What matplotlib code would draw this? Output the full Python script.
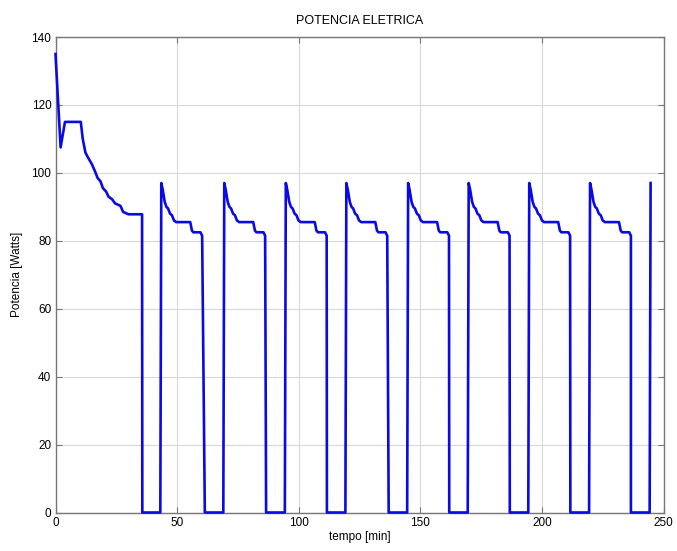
import numpy as np
import matplotlib.pyplot as plt

plt.rcParams['font.family'] = ['Liberation Sans', 'DejaVu Sans']

# initial pull-down: start-up transient and first long "on" period
first_t = [0, 2.1, 3.9, 10.4, 11.2, 12.3, 13.0, 14.2, 15.0, 16.5, 17.3, 18.5,
           19.5, 20.8, 21.8, 23.3, 24.5, 26.7, 27.8, 30.0, 35.6]
first_p = [135, 107.5, 115, 115, 110, 106, 105, 103.5, 102.5, 100, 98.5, 97.5,
           95.5, 94.5, 93, 92.2, 91, 90.3, 88.5, 87.8, 87.8]

# compressor cycles: switch-on / switch-off instants [min]
on_times = [43.1, 69.0, 94.3, 119.2, 144.6, 169.5, 194.4, 219.4, 244.3]
off_times = [61.4, 86.6, 111.6, 137.0, 161.9, 186.8, 211.7, 236.6]
t_end = 245.0

# power profile of one "on" period (minutes after switch-on, Watts)
cyc_dt = [0.4, 1.0, 1.8, 2.5, 3.2, 4.0, 4.8, 5.6, 6.5, 7.3, 12.3, 13.0, 13.6, 16.5, 17.2]
cyc_p = [97, 95, 91.5, 90, 89.5, 88, 87.5, 86, 85.5, 85.5, 85.5, 83, 82.5, 82.5, 81.5]

t = list(first_t)
p = list(first_p)
t.append(first_t[-1] + 0.1)
p.append(0)
for i, t_on in enumerate(on_times):
    t_off = off_times[i] if i < len(off_times) else t_end
    t.append(t_on)
    p.append(0)
    for dt, val in zip(cyc_dt, cyc_p):
        if t_on + dt <= t_off:
            t.append(t_on + dt)
            p.append(val)
    if i < len(off_times):
        t.append(t_off)
        p.append(0)

fig = plt.figure(figsize=(6.77, 5.51), dpi=100)
ax = fig.add_axes([55.5 / 677, 1 - 512.5 / 551, 608 / 677, 475.5 / 551])

ax.plot(t, p, color='#0a0ae6', lw=1.9, clip_on=False, zorder=3)

ax.set_xlim(0, 250)
ax.set_ylim(0, 140)
ax.set_xticks(np.arange(0, 251, 50))
ax.set_yticks(np.arange(0, 141, 20))
ax.grid(True, color='#d8d8d8', lw=0.8)
ax.set_axisbelow(True)
for s in ax.spines.values():
    s.set_color('#777777')
    s.set_linewidth(1.0)
ax.tick_params(direction='in', length=4, width=0.8, color='#777777',
               labelsize=8.5, top=True, right=True, pad=3)

ax.set_title('POTENCIA ELETRICA', fontsize=9, pad=9)
ax.set_xlabel('tempo [min]', fontsize=8.5, labelpad=2)
ax.set_ylabel('Potencia [Watts]', fontsize=8.5, labelpad=6)

fig.savefig('out.png', dpi=100)
